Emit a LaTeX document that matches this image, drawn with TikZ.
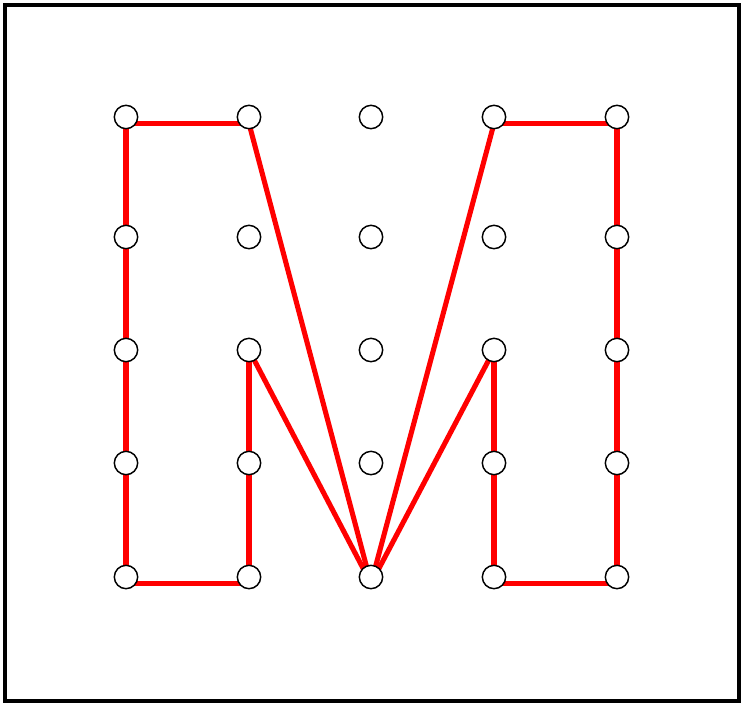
\documentclass[tikz,border=0pt]{standalone}
\usetikzlibrary{calc}
\begin{document}
\begin{tikzpicture}[x=0.75pt,y=-0.75pt,
  peg/.style={circle,draw=black,fill=white,line width=1.1pt,minimum size=17.5pt,inner sep=0pt},
  band/.style={draw=red,line width=3.8pt,line join=round}]
\useasboundingbox (0,0) rectangle (741,704);
\draw[line width=3pt] (4.5,4.5) rectangle (738.5,700.5);
% grid coordinates
\foreach \c/\x in {1/126,2/249,3/371,4/494,5/617}{
  \foreach \r/\y in {1/117,2/237,3/350,4/463,5/577}{
    \coordinate (p\c\r) at (\x,\y);
  }
}
% band offsets for horizontal runs
\foreach \c in {1,2,3,4,5}{
  \coordinate (t\c) at ($(p\c1)+(0,6.5)$);
  \coordinate (b\c) at ($(p\c5)+(0,6.5)$);
}
% red bands
\draw[band] (t2) -- (t1) -- (b1) -- (b2) -- (p23);
\draw[band] (t2) -- (b3);
\draw[band] (p23) -- (b3);
\draw[band] (t4) -- (t5) -- (b5) -- (b4) -- (p43);
\draw[band] (t4) -- (b3);
\draw[band] (p43) -- (b3);
% pegs
\foreach \c in {1,2,3,4,5}{
  \foreach \r in {1,2,3,4,5}{
    \node[peg] (n\c\r) at (p\c\r) {};
  }
}
\end{tikzpicture}
\end{document}
